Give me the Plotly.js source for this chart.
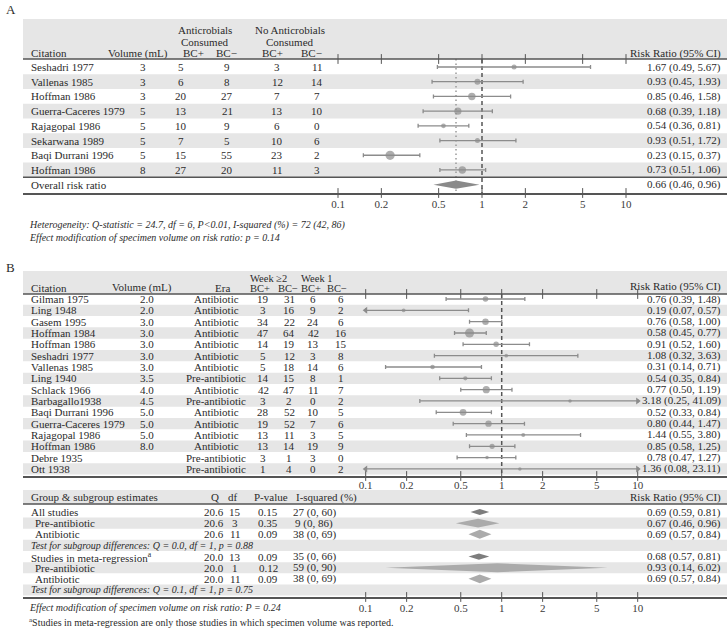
<!DOCTYPE html>
<html>
<head>
<meta charset="utf-8">
<script src="https://cdn.plot.ly/plotly-3.0.1.min.js"></script>
<style>
  html, body { margin: 0; padding: 0; background: #fff; }
  #chart { width: 727px; height: 630px; }
</style>
</head>
<body>
<div id="chart"></div>
<script>
// ---- Panel A: antimicrobials consumed vs not, by specimen volume
const citA = ['Seshadri 1977', 'Vallenas 1985', 'Hoffman 1986', 'Guerra-Caceres 1979',
  'Rajagopal 1986', 'Sekarwana 1989', 'Baqi Durrani 1996', 'Hoffman 1986'];
const volA = [3, 3, 3, 5, 5, 5, 5, 8];
const abPosA = [5, 6, 20, 13, 10, 7, 15, 27];
const abNegA = [9, 8, 27, 21, 9, 5, 55, 20];
const noPosA = [3, 12, 7, 13, 6, 10, 23, 11];
const noNegA = [11, 14, 7, 10, 0, 6, 2, 3];
const rrA = [1.67, 0.93, 0.85, 0.68, 0.54, 0.93, 0.23, 0.73];
const loA = [0.49, 0.45, 0.46, 0.39, 0.36, 0.51, 0.15, 0.51];
const hiA = [5.67, 1.93, 1.58, 1.18, 0.81, 1.72, 0.37, 1.06];
const overallA = { rr: 0.66, lo: 0.46, hi: 0.96 };

// ---- Panel B: week >=2 vs week 1
const citB = ['Gilman 1975', 'Ling 1948', 'Gasem 1995', 'Hoffman 1984', 'Hoffman 1986',
  'Seshadri 1977', 'Vallenas 1985', 'Ling 1940', 'Schlack 1966', 'Barbagallo1938',
  'Baqi Durrani 1996', 'Guerra-Caceres 1979', 'Rajagopal 1986', 'Hoffman 1986',
  'Debre 1935', 'Ott 1938'];
const volB = [2.0, 2.0, 3.0, 3.0, 3.0, 3.0, 3.0, 3.5, 4.0, 4.5, 5.0, 5.0, 5.0, 8.0, null, null];
const eraB = ['Antibiotic', 'Antibiotic', 'Antibiotic', 'Antibiotic', 'Antibiotic', 'Antibiotic',
  'Antibiotic', 'Pre-antibiotic', 'Antibiotic', 'Pre-antibiotic', 'Antibiotic', 'Antibiotic',
  'Antibiotic', 'Antibiotic', 'Pre-antibiotic', 'Pre-antibiotic'];
const w2PosB = [19, 3, 34, 47, 14, 5, 5, 14, 42, 3, 28, 19, 13, 13, 3, 1];
const w2NegB = [31, 16, 22, 64, 19, 12, 18, 15, 47, 2, 52, 52, 11, 14, 1, 4];
const w1PosB = [6, 9, 24, 42, 13, 3, 14, 8, 11, 0, 10, 7, 3, 19, 3, 0];
const w1NegB = [6, 2, 6, 16, 15, 8, 6, 1, 7, 2, 5, 6, 5, 9, 0, 2];
const rrB = [0.76, 0.19, 0.76, 0.58, 0.91, 1.08, 0.31, 0.54, 0.77, 3.18, 0.52, 0.80, 1.44, 0.85, 0.78, 1.36];
const loB = [0.39, 0.07, 0.58, 0.45, 0.52, 0.32, 0.14, 0.35, 0.50, 0.25, 0.33, 0.44, 0.55, 0.58, 0.47, 0.08];
const hiB = [1.48, 0.57, 1.00, 0.77, 1.60, 3.63, 0.71, 0.84, 1.19, 41.09, 0.84, 1.47, 3.80, 1.25, 1.27, 23.11];

// ---- Panel B: group & subgroup estimates
const sumLabel = ['All studies', 'Pre-antibiotic', 'Antibiotic',
  'Test for subgroup differences: Q = 0.0, df = 1, p = 0.88',
  'Studies in meta-regression<sup>a</sup>', 'Pre-antibiotic', 'Antibiotic',
  'Test for subgroup differences: Q = 0.1, df = 1, p = 0.75'];
const sumKind = ['group', 'sub', 'sub', 'test', 'group', 'sub', 'sub', 'test'];
const sumQ = [20.6, 20.6, 20.6, null, 20.0, 20.0, 20.0, null];
const sumDf = [15, 3, 11, null, 13, 1, 11, null];
const sumP = [0.15, 0.35, 0.09, null, 0.09, 0.12, 0.09, null];
const sumI2 = [27, 9, 38, null, 35, 59, 38, null];
const sumI2lo = [0, 0, 0, null, 0, 0, 0, null];
const sumI2hi = [60, 86, 69, null, 66, 90, 69, null];
const sumRR = [0.69, 0.67, 0.69, null, 0.68, 0.93, 0.69, null];
const sumLo = [0.59, 0.46, 0.57, null, 0.57, 0.14, 0.57, null];
const sumHi = [0.81, 0.96, 0.84, null, 0.81, 6.02, 0.84, null];

const TICKS = [0.1, 0.2, 0.5, 1, 2, 5, 10];

// ---- styling
const W = 727, H = 630;
const SERIF = '"Liberation Serif", "DejaVu Serif", serif';
const INK = '#2b2b2b';
const MARK = '#8c8c8c';
const RULE = '#555';
const BAND = '#e6e6e6';
const LEFT = 23;

const px = x => x / W;
const py = y => 1 - y / H;
const fmt2 = v => v.toFixed(2);
const ciText = (r, l, h) => `${fmt2(r)} (${fmt2(l)}, ${fmt2(h)})`;

const annotations = [];
const shapes = [];
const traces = [];

function label(x, y, text, o = {}) {
  annotations.push({
    xref: 'paper', yref: o.yref || 'paper',
    x: px(x), y: o.yref ? y : py(y),
    text: text, showarrow: false,
    xanchor: o.anchor || 'center', yanchor: 'middle',
    font: { family: SERIF, size: o.size || 11, color: INK, style: o.italic ? 'italic' : 'normal' },
  });
}

function band(yref, r0, r1) {
  shapes.push({ type: 'rect', xref: 'paper', x0: px(LEFT), x1: 1, yref, y0: r0, y1: r1,
    fillcolor: BAND, line: { width: 0 }, layer: 'below' });
}

function rule(yref, r) {
  shapes.push({ type: 'line', xref: 'paper', x0: px(LEFT), x1: 1, yref, y0: r, y1: r,
    line: { color: RULE, width: 1.6 } });
}

// small "+" ticks that cross a rule
function crossTicks(xa, ya, r) {
  traces.push({ type: 'scatter', mode: 'markers', xaxis: xa, yaxis: ya,
    x: TICKS, y: TICKS.map(() => r), cliponaxis: false, hoverinfo: 'skip',
    marker: { symbol: 'line-ns', size: 7, color: RULE, line: { color: RULE, width: 1 } } });
}

function vline(xa, ya, xv, r0, r1, color, dash) {
  traces.push({ type: 'scatter', mode: 'lines', xaxis: xa, yaxis: ya,
    x: [xv, xv], y: [r0, r1], hoverinfo: 'skip', line: { color, width: 1.5, dash } });
}

function forest(xa, ya, rr, lo, hi, rows, sizes) {
  const loC = lo.map(v => Math.max(v, 0.1));
  const hiC = hi.map(v => Math.min(v, 10));
  traces.push({ type: 'scatter', mode: 'markers', xaxis: xa, yaxis: ya,
    x: rr, y: rows, cliponaxis: false, hoverinfo: 'skip',
    marker: { size: sizes, color: MARK, line: { width: 0 } },
    error_x: { type: 'data', symmetric: false,
      array: hiC.map((h, i) => h - rr[i]), arrayminus: loC.map((l, i) => rr[i] - l),
      color: MARK, thickness: 1.3, width: 2 } });
  const lIdx = rows.filter((_, i) => lo[i] < 0.1);
  const rIdx = rows.filter((_, i) => hi[i] > 10);
  if (lIdx.length) traces.push({ type: 'scatter', mode: 'markers', xaxis: xa, yaxis: ya,
    x: lIdx.map(() => 0.1), y: lIdx, cliponaxis: false, hoverinfo: 'skip',
    marker: { symbol: 'triangle-left', size: 6, color: MARK } });
  if (rIdx.length) traces.push({ type: 'scatter', mode: 'markers', xaxis: xa, yaxis: ya,
    x: rIdx.map(() => 10), y: rIdx, cliponaxis: false, hoverinfo: 'skip',
    marker: { symbol: 'triangle-right', size: 6, color: MARK } });
}

function diamond(xa, ya, r, lo, hi, row, half, color) {
  traces.push({ type: 'scatter', mode: 'lines', xaxis: xa, yaxis: ya, fill: 'toself',
    x: [lo, r, hi, r, lo], y: [row, row - half, row, row + half, row],
    fillcolor: color, line: { width: 0 }, hoverinfo: 'skip' });
}

function logAxis(p01, p10, anchor, standoff = 0) {
  const dec = (p10 - p01) / 2;
  return {
    type: 'log', domain: [px(LEFT), 1], anchor,
    range: [-1 - (p01 - LEFT) / dec, 1 + (W - p10) / dec],
    showline: true, linecolor: RULE, linewidth: 1.6,
    ticks: '', tickvals: TICKS, ticktext: TICKS.map(String),
    ticklabelstandoff: standoff,
    tickfont: { family: SERIF, size: 11, color: '#3a3a3a' },
    showgrid: false, zeroline: false, fixedrange: true,
  };
}

// row <-> pixel helpers for each block
const rowA = p => (p - 67) / 14.71;
const rowB = p => (p - 299) / 11.33;
const rowS = p => (p - 512) / 11.14;

// ================= Panel A =================
label(4, 10, 'A', { anchor: 'left', size: 13 });
const rowsA = citA.map((_, i) => i);
band('y', rowA(19), rowA(59));
rowsA.forEach(i => { if (i % 2 === 1) band('y', i - 0.5, i + 0.5); });
rule('y', rowA(59));
rule('y', 7.5);
crossTicks('x', 'y', rowA(59));
crossTicks('x', 'y', rowA(193));
vline('x', 'y', overallA.rr, rowA(59), rowA(193), '#9a9a9a', '1.5px,3px');
vline('x', 'y', 1, rowA(59), rowA(193), RULE, '4px,3px');

label(205, 30, 'Anticrobials');
label(205, 42, 'Consumed');
label(290, 30, 'No Anticrobials');
label(290, 42, 'Consumed');
label(29, 53, 'Citation', { anchor: 'left' });
label(138, 53, 'Volume (mL)');
label(193, 53, 'BC+');
label(226, 53, 'BC\u2212');
label(272, 53, 'BC+');
label(311, 53, 'BC\u2212');
label(723, 53, 'Risk Ratio (95% CI)', { anchor: 'right' });

rowsA.forEach(i => {
  const o = { yref: 'y' };
  label(29, i, citA[i], { yref: 'y', anchor: 'left' });
  label(143, i, String(volA[i]), o);
  label(181, i, String(abPosA[i]), o);
  label(227, i, String(abNegA[i]), o);
  label(277, i, String(noPosA[i]), o);
  label(317, i, String(noNegA[i]), o);
  label(723, i, ciText(rrA[i], loA[i], hiA[i]), { yref: 'y', anchor: 'right' });
});
label(29, 8, 'Overall risk ratio', { yref: 'y', anchor: 'left' });
label(723, 8, ciText(overallA.rr, overallA.lo, overallA.hi), { yref: 'y', anchor: 'right' });

const sizeA = rowsA.map(i => Math.max(3.5, 0.95 * Math.sqrt(abPosA[i] + abNegA[i] + noPosA[i] + noNegA[i])));
forest('x', 'y', rrA, loA, hiA, rowsA, sizeA);
diamond('x', 'y', overallA.rr, overallA.lo, overallA.hi, 8, 0.28, '#8a8a8a');

label(27, 225, 'Heterogeneity: Q-statistic = 24.7, df = 6, P<0.01, I-squared (%) = 72 (42, 86)',
  { anchor: 'left', italic: true, size: 10 });
label(27, 237, 'Effect modification of specimen volume on risk ratio: p = 0.14',
  { anchor: 'left', italic: true, size: 10 });

// ================= Panel B =================
label(4, 267, 'B', { anchor: 'left', size: 13 });
const rowsB = citB.map((_, i) => i);
band('y2', rowB(271), rowB(294));
rowsB.forEach(i => { if (i % 2 === 1) band('y2', i - 0.5, i + 0.5); });
rule('y2', rowB(294));
crossTicks('x2', 'y2', rowB(294));
crossTicks('x2', 'y2', rowB(476));
vline('x2', 'y2', 1, rowB(294), rowB(476), RULE, '4px,3px');

label(268, 278, 'Week \u22652', { size: 10.5 });
label(317, 278, 'Week 1', { size: 10.5 });
label(29, 288, 'Citation', { anchor: 'left' });
label(142, 288, 'Volume (mL)');
label(222, 288, 'Era');
label(260, 288.5, 'BC+', { size: 10.5 });
label(288, 288.5, 'BC\u2212', { size: 10.5 });
label(311, 288.5, 'BC+', { size: 10.5 });
label(337, 288.5, 'BC\u2212', { size: 10.5 });
label(723, 287, 'Risk Ratio (95% CI)', { anchor: 'right' });

rowsB.forEach(i => {
  const o = { yref: 'y2' };
  label(29, i, citB[i], { yref: 'y2', anchor: 'left' });
  if (volB[i] !== null) label(147, i, volB[i].toFixed(1), o);
  label(216, i, eraB[i], o);
  label(263, i, String(w2PosB[i]), o);
  label(289, i, String(w2NegB[i]), o);
  label(313, i, String(w1PosB[i]), o);
  label(341, i, String(w1NegB[i]), o);
  label(723, i, ciText(rrB[i], loB[i], hiB[i]), { yref: 'y2', anchor: 'right' });
});

const sizeB = rowsB.map(i => Math.max(3.5, 0.7 * Math.sqrt(w2PosB[i] + w2NegB[i] + w1PosB[i] + w1NegB[i])));
forest('x2', 'y2', rrB, loB, hiB, rowsB, sizeB);

// ---- subgroup block
const rowsS = sumLabel.map((_, i) => i);
band('y3', rowS(490), rowS(504));
rowsS.forEach(i => { if (i % 2 === 1) band('y3', i - 0.5, i + 0.5); });
rule('y3', rowS(504));
crossTicks('x3', 'y3', rowS(597));

label(29, 497, 'Group &amp; subgroup estimates', { anchor: 'left' });
label(215, 497, 'Q');
label(233, 497, 'df');
label(271, 497, 'P-value');
label(326, 497, 'I-squared (%)');
label(723, 497, 'Risk Ratio (95% CI)', { anchor: 'right' });

rowsS.forEach(i => {
  const o = { yref: 'y3' };
  if (sumKind[i] === 'test') {
    label(29, i, sumLabel[i], { yref: 'y3', anchor: 'left', italic: true, size: 10 });
    return;
  }
  label(sumKind[i] === 'sub' ? 33 : 29, i, sumLabel[i], { yref: 'y3', anchor: 'left' });
  label(214, i, sumQ[i].toFixed(1), o);
  label(235, i, String(sumDf[i]), o);
  label(268, i, fmt2(sumP[i]), o);
  label(314, i, `${sumI2[i]} (${sumI2lo[i]}, ${sumI2hi[i]})`, o);
  label(723, i, ciText(sumRR[i], sumLo[i], sumHi[i]), { yref: 'y3', anchor: 'right' });
  const dark = sumKind[i] === 'group';
  diamond('x3', 'y3', sumRR[i], sumLo[i], sumHi[i], i, dark ? 0.28 : 0.4, dark ? '#7d7d7d' : '#ababab');
});

label(27, 607, 'Effect modification of specimen volume on risk ratio: P = 0.24',
  { anchor: 'left', italic: true, size: 10 });
label(27, 622, '<sup>a</sup>Studies in meta-regression are only those studies in which specimen volume was reported.',
  { anchor: 'left', size: 10 });

const layout = {
  width: W, height: H,
  margin: { l: 0, r: 0, t: 0, b: 0 },
  paper_bgcolor: '#fff', plot_bgcolor: 'rgba(0,0,0,0)',
  showlegend: false,
  xaxis: logAxis(338, 626, 'y'),
  yaxis: { domain: [py(193), py(19)], range: [rowA(193), rowA(19)], visible: false, fixedrange: true },
  xaxis2: logAxis(365.7, 637.7, 'y2', -2),
  yaxis2: { domain: [py(476), py(271)], range: [rowB(476), rowB(271)], visible: false, fixedrange: true },
  xaxis3: logAxis(365.7, 637.7, 'y3'),
  yaxis3: { domain: [py(597), py(490)], range: [rowS(597), rowS(490)], visible: false, fixedrange: true },
  shapes: shapes,
  annotations: annotations,
};

Plotly.newPlot('chart', traces, layout, { displayModeBar: false, staticPlot: true });
</script>
</body>
</html>
